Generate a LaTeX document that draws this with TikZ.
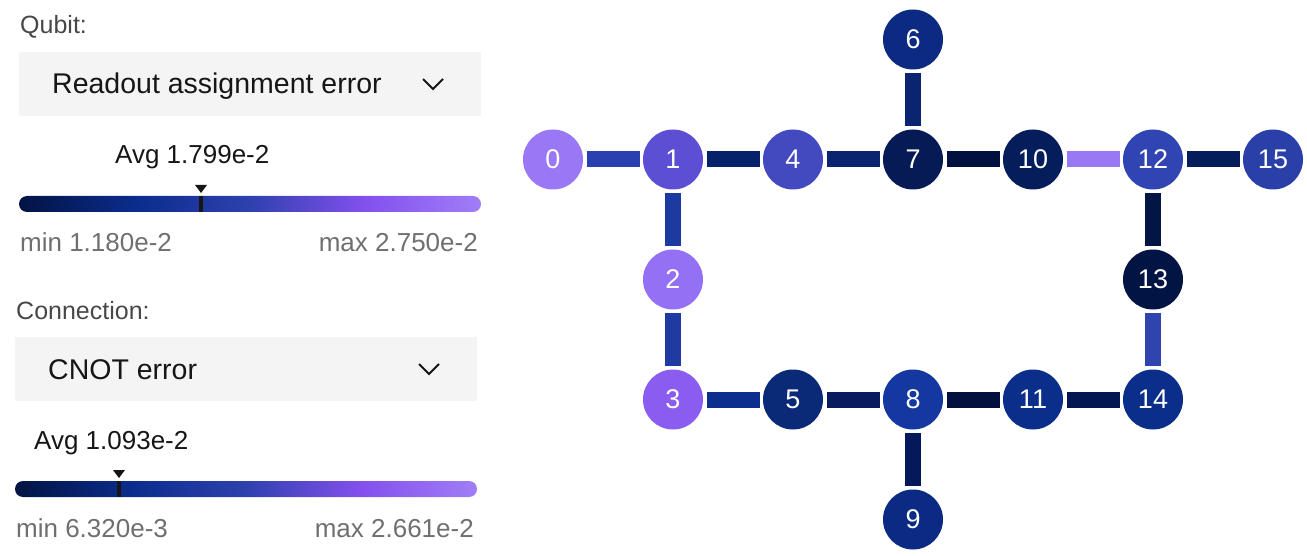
\documentclass[tikz,border=0pt]{standalone}
\usepackage{fontspec}
\setmainfont{Liberation Sans}
\definecolor{g0}{HTML}{031343}
\definecolor{g1}{HTML}{0A2C8C}
\definecolor{g2}{HTML}{2E41AE}
\definecolor{g3}{HTML}{8450EE}
\definecolor{g4}{HTML}{A07EF6}
\definecolor{dropbg}{HTML}{F4F4F4}
\definecolor{txtdark}{HTML}{161616}
\definecolor{txtlabel}{HTML}{474747}
\definecolor{txtgray}{HTML}{6F6F6F}
% node colours
\definecolor{q0}{HTML}{9A78F5}
\definecolor{q1}{HTML}{5C4FD4}
\definecolor{q2}{HTML}{9470F4}
\definecolor{q3}{HTML}{8A5CF0}
\definecolor{q4}{HTML}{4349BF}
\definecolor{q5}{HTML}{0A2A78}
\definecolor{q6}{HTML}{0C2A82}
\definecolor{q7}{HTML}{061B55}
\definecolor{q8}{HTML}{1538A0}
\definecolor{q9}{HTML}{0B2A83}
\definecolor{q10}{HTML}{061D5C}
\definecolor{q11}{HTML}{0B2E8A}
\definecolor{q12}{HTML}{3145B2}
\definecolor{q13}{HTML}{021443}
\definecolor{q14}{HTML}{0B2E8A}
\definecolor{q15}{HTML}{2A3FA8}
% edge colours
\definecolor{eA}{HTML}{2B40B0}
\definecolor{eB}{HTML}{06226A}
\definecolor{eC}{HTML}{0A2470}
\definecolor{eD}{HTML}{021040}
\definecolor{eE}{HTML}{9A78F5}
\definecolor{eF}{HTML}{061D5C}
\definecolor{eG}{HTML}{1C3AA0}
\definecolor{eH}{HTML}{1F3BA2}
\definecolor{eI}{HTML}{0B2E8F}
\definecolor{eJ}{HTML}{061C5C}
\definecolor{eK}{HTML}{031850}
\definecolor{eL}{HTML}{04185A}
\definecolor{eM}{HTML}{031545}
\definecolor{eN}{HTML}{3044B0}
\pgfdeclarehorizontalshading{errgrad}{100bp}{color(0bp)=(g0); color(25bp)=(g0); color(37.5bp)=(g1); color(50bp)=(g2); color(62.5bp)=(g3); color(75bp)=(g4); color(100bp)=(g4)}
\begin{document}
\begin{tikzpicture}[x=1pt,y=-1pt,
  qb/.style={circle, minimum size=60pt, inner sep=0pt, outer sep=3.5pt, text=white, font=\fontsize{27}{27}\selectfont},
  cx/.style={line width=16pt},
  lbl/.style={anchor=base west, inner sep=0pt, text=txtlabel, font=\fontsize{25}{25}\selectfont},
  drop/.style={anchor=base west, inner sep=0pt, text=txtdark, font=\fontsize{28.5}{28.5}\selectfont},
  avg/.style={inner sep=0pt, text=txtdark, font=\fontsize{26}{26}\selectfont},
  rng/.style={inner sep=0pt, text=txtgray, font=\fontsize{26}{26}\selectfont},
  chev/.style={draw=txtdark, line width=2pt, line join=miter},
  marker/.style={fill=txtdark},
  tick/.style={draw=txtdark, line width=4pt}
]
\useasboundingbox (0,0) rectangle (1307,556);

% ---------- Qubit panel ----------
\node[lbl] (qlabel) at (20,34) {Qubit:};
\fill[dropbg] (19,52) rectangle (481,116);
\node[drop] (qdrop) at (52,94) {Readout assignment error};
\draw[chev] (423,79) -- (433,89) -- (443,79);
\node[avg, anchor=base west] (qavg) at (115,164) {Avg 1.799e-2};
\shade[shading=errgrad, rounded corners=8pt] (19,196) rectangle (481,212);
\fill[marker] (195,185) -- (207,185) -- (201,193) -- cycle;
\draw[tick] (201,196) -- (201,212);
\node[rng, anchor=base west] (qmin) at (20,252) {min 1.180e-2};
\node[rng, anchor=base east] (qmax) at (478,252) {max 2.750e-2};

% ---------- Connection panel ----------
\node[lbl] (clabel) at (16,319) {Connection:};
\fill[dropbg] (15,337) rectangle (477,401);
\node[drop] (cdrop) at (48,379) {CNOT error};
\draw[chev] (419,364) -- (429,374) -- (439,364);
\node[avg, anchor=base west] (cavg) at (34,449) {Avg 1.093e-2};
\shade[shading=errgrad, rounded corners=8pt] (15,481) rectangle (477,497);
\fill[marker] (113,470) -- (125,470) -- (119,478) -- cycle;
\draw[tick] (119,481) -- (119,497);
\node[rng, anchor=base west] (cmin) at (16,537) {min 6.320e-3};
\node[rng, anchor=base east] (cmax) at (474,537) {max 2.661e-2};

% ---------- coupling map ----------
\node[qb, fill=q0]  (n0)  at (553,159.5) {0};
\node[qb, fill=q1]  (n1)  at (673,159.5) {1};
\node[qb, fill=q4]  (n4)  at (793,159.5) {4};
\node[qb, fill=q7]  (n7)  at (913,159.5) {7};
\node[qb, fill=q10] (n10) at (1033,159.5) {10};
\node[qb, fill=q12] (n12) at (1153,159.5) {12};
\node[qb, fill=q15] (n15) at (1273,159.5) {15};
\node[qb, fill=q6]  (n6)  at (913,39.5) {6};
\node[qb, fill=q2]  (n2)  at (673,279.5) {2};
\node[qb, fill=q13] (n13) at (1153,279.5) {13};
\node[qb, fill=q3]  (n3)  at (673,399.5) {3};
\node[qb, fill=q5]  (n5)  at (793,399.5) {5};
\node[qb, fill=q8]  (n8)  at (913,399.5) {8};
\node[qb, fill=q11] (n11) at (1033,399.5) {11};
\node[qb, fill=q14] (n14) at (1153,399.5) {14};
\node[qb, fill=q9]  (n9)  at (913,519.5) {9};

\draw[cx, draw=eA] (n0) -- (n1);
\draw[cx, draw=eB] (n1) -- (n4);
\draw[cx, draw=eC] (n4) -- (n7);
\draw[cx, draw=eD] (n7) -- (n10);
\draw[cx, draw=eE] (n10) -- (n12);
\draw[cx, draw=eF] (n12) -- (n15);
\draw[cx, draw=eC] (n6) -- (n7);
\draw[cx, draw=eG] (n1) -- (n2);
\draw[cx, draw=eH] (n2) -- (n3);
\draw[cx, draw=eI] (n3) -- (n5);
\draw[cx, draw=eJ] (n5) -- (n8);
\draw[cx, draw=eD] (n8) -- (n11);
\draw[cx, draw=eK] (n11) -- (n14);
\draw[cx, draw=eL] (n8) -- (n9);
\draw[cx, draw=eM] (n12) -- (n13);
\draw[cx, draw=eN] (n13) -- (n14);
\end{tikzpicture}
\end{document}
